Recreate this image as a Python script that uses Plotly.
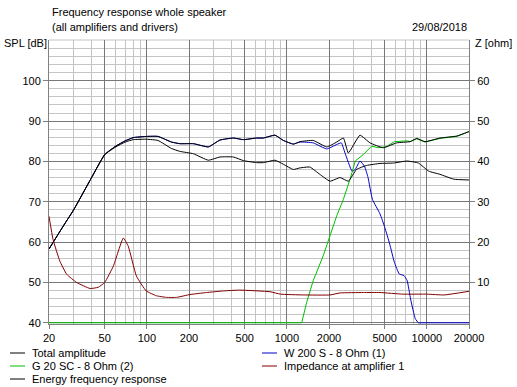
import plotly.graph_objects as go

# ---------------- data ----------------
freq_total = [20, 25, 30, 40, 50, 60, 70, 80, 100, 120, 150, 172, 215, 275, 333, 415, 489, 608, 679,
              823, 944, 1112, 1242, 1541, 1927, 2271, 2534, 2749, 3329, 3925, 4886, 6083, 7583, 8470,
              9700, 12420, 16400, 20000]
spl_total = [58.3, 63.7, 68.0, 75.8, 81.7, 83.8, 85.1, 85.9, 86.2, 86.2, 84.8, 84.4, 84.4, 83.6, 85.3,
             85.8, 85.4, 85.8, 85.8, 86.5, 85.2, 84.3, 84.9, 85.2, 83.6, 84.8, 85.8, 82.1, 86.5, 84.6,
             83.4, 84.6, 84.9, 85.7, 84.9, 85.8, 86.3, 87.4]

freq_efr = [20, 25, 30, 40, 50, 60, 70, 80, 100, 120, 150, 172, 215, 275, 333, 415, 489, 608, 679, 823,
            944, 1112, 1242, 1460, 1720, 2033, 2398, 2749, 3145, 3713, 4628, 5770, 7200, 8710, 10300,
            12420, 15570, 20000]
spl_efr = [58.3, 63.7, 68.0, 75.8, 81.7, 83.6, 84.8, 85.4, 85.5, 85.2, 83.2, 82.5, 81.9, 80.3, 81.1,
           81.1, 80.2, 79.7, 79.7, 80.3, 79.3, 78.0, 78.4, 78.6, 76.8, 75.1, 76.0, 75.1, 78.0, 79.0,
           79.5, 79.6, 80.1, 79.6, 77.6, 76.8, 75.6, 75.4]

freq_woofer = [20, 25, 30, 40, 50, 60, 70, 80, 100, 120, 150, 172, 215, 275, 333, 415, 489, 608, 679,
               823, 944, 1112, 1242, 1541, 1927, 2271, 2450, 2602, 2920, 3079, 3329, 3587, 3801, 4086,
               4628, 5010, 5430, 5860, 6350, 6870, 7240, 7650, 8270, 8710, 9200, 10000, 12000, 16000,
               20000]
spl_woofer = [58.3, 63.7, 68.0, 75.8, 81.7, 83.8, 85.1, 85.9, 86.2, 86.2, 84.8, 84.4, 84.4, 83.6, 85.3,
              85.8, 85.4, 85.8, 85.8, 86.5, 85.2, 84.3, 84.8, 84.6, 83.1, 84.2, 84.6, 82.1, 77.6, 78.0,
              80.1, 78.8, 76.0, 70.6, 67.0, 63.6, 59.5, 55.0, 52.1, 51.7, 50.4, 45.9, 41.0, 40.0, 40.0,
              40.0, 40.0, 40.0, 40.0]

freq_tweeter = [20, 1277, 1386, 1541, 1818, 2033, 2271, 2534, 2840, 3079, 3515, 4035, 4480, 5100, 5860,
                7200, 7583, 8470, 9700, 12420, 16400, 20000]
spl_tweeter = [40.0, 40.0, 45.1, 50.4, 56.6, 61.6, 66.5, 70.6, 75.8, 80.1, 81.7, 83.8, 83.4, 83.6, 84.9,
               85.1, 84.9, 85.6, 84.8, 85.7, 86.2, 87.4]

freq_imp = [20, 21.4, 23.9, 26.8, 31.5, 39.3, 44.9, 50, 57.7, 67.9, 73.6, 84.2, 99, 117, 138, 163, 203,
            267, 353, 461, 758, 900, 1320, 2033, 2400, 3515, 4628, 6760, 10000, 13300, 20000]
z_imp = [26.4, 20.6, 15.3, 12.0, 10.0, 8.5, 8.8, 10.0, 14.1, 21.0, 19.0, 11.6, 7.9, 6.7, 6.3, 6.3, 7.0,
         7.5, 7.9, 8.1, 7.7, 7.1, 6.9, 6.9, 7.4, 7.5, 7.5, 7.1, 7.1, 6.9, 7.8]

x_ticks = [20, 50, 100, 200, 500, 1000, 2000, 5000, 10000, 20000]
x_ticktext = ["20", "50", "100", "200", "500", "1000", "2000", "5000", "10000", "20000"]
x_minor = [30, 40, 60, 70, 80, 90, 300, 400, 600, 700, 800, 900, 3000, 4000, 6000, 7000, 8000, 9000]
spl_ticks = [40, 50, 60, 70, 80, 90, 100]
z_ticks = [10, 20, 30, 40, 50, 60]

names = ["Total amplitude", "G 20 SC - 8 Ohm (2)", "Energy frequency response",
         "W 200 S - 8 Ohm (1)", "Impedance at amplifier 1"]
colors = {"black": "#000000", "green": "#00c000", "blue": "#0000c8", "red": "#800000"}

# ---------------- layout geometry ----------------
W, H = 517, 387
L, R, T, B = 49, 48, 40, 63
PW, PH = W - L - R, H - T - B
FONT = "Liberation Sans, Arial, sans-serif"
FS = 11


def px(xp):
    return (xp - L) / PW


def py(yp):
    return (H - B - yp) / PH


def curve(col, sm=0.4):
    return dict(color=col, width=1, shape="spline", smoothing=sm)


fig = go.Figure()
fig.add_trace(go.Scatter(x=freq_woofer, y=spl_woofer, mode="lines", name=names[3],
                         line=curve(colors["blue"])))
fig.add_trace(go.Scatter(x=freq_tweeter, y=spl_tweeter, mode="lines", name=names[1],
                         line=dict(color=colors["green"], width=1)))
fig.add_trace(go.Scatter(x=freq_imp, y=z_imp, mode="lines", name=names[4], yaxis="y2",
                         line=curve(colors["red"])))
fig.add_trace(go.Scatter(x=freq_efr, y=spl_efr, mode="lines", name=names[2],
                         line=curve(colors["black"])))
fig.add_trace(go.Scatter(x=freq_total, y=spl_total, mode="lines", name=names[0],
                         line=curve(colors["black"])))

major_grid = "#787878"
minor_grid = "#c4c4c4"
axis_col = "#808080"

fig.update_layout(
    width=W, height=H,
    margin=dict(l=L, r=R, t=T, b=B),
    paper_bgcolor="white", plot_bgcolor="white",
    showlegend=False,
    hovermode=False,
    font=dict(family=FONT, size=FS, color="black"),
    xaxis=dict(type="log", range=[1.30103, 4.30103], tickmode="array", tickvals=x_ticks,
               ticktext=x_ticktext, showgrid=True, gridcolor=major_grid, gridwidth=1,
               ticks="outside", ticklen=4, tickcolor=axis_col, showline=True, linecolor=axis_col,
               linewidth=1, mirror=False, zeroline=False, layer="below traces",
               tickfont=dict(family=FONT, size=FS, color="black"),
               minor=dict(tickmode="array", tickvals=x_minor, showgrid=True, gridcolor=minor_grid,
                          ticks="")),
    yaxis=dict(range=[39.7, 110.1], tickmode="array", tickvals=spl_ticks, showgrid=True,
               gridcolor=major_grid, gridwidth=1, ticks="outside", ticklen=5, tickcolor=axis_col,
               showline=True, linecolor=axis_col, linewidth=1, zeroline=False, layer="below traces",
               tickfont=dict(family=FONT, size=FS, color="black"),
               minor=dict(dtick=2, tick0=40, showgrid=True, gridcolor=minor_grid, ticks="")),
    yaxis2=dict(range=[-0.3, 70.1], overlaying="y", side="right", tickmode="array", tickvals=z_ticks,
                showgrid=False, ticks="outside", ticklen=5, tickcolor=axis_col, showline=True,
                linecolor=axis_col, linewidth=1, zeroline=False, layer="below traces",
                tickfont=dict(family=FONT, size=FS, color="black")),
)

# top border line of the plot box
fig.add_shape(type="line", xref="paper", yref="paper", x0=0, x1=1, y0=1, y1=1,
              line=dict(color=minor_grid, width=1), layer="below")

# header texts
ann = []
ann.append(dict(text="Frequency response whole speaker", x=px(50), y=py(12), xanchor="left"))
ann.append(dict(text="(all amplifiers and drivers)", x=px(50), y=py(27), xanchor="left"))
ann.append(dict(text="29/08/2018", x=px(469), y=py(27), xanchor="right"))
ann.append(dict(text="SPL [dB]", x=px(2), y=py(43), xanchor="left"))
ann.append(dict(text="Z [ohm]", x=px(473), y=py(43), xanchor="left"))

# manual legend (two columns)
legend_items = [
    (names[0], colors["black"], 10, 353),
    (names[1], colors["green"], 10, 366),
    (names[2], colors["black"], 10, 379),
    (names[3], colors["blue"], 262, 353),
    (names[4], colors["red"], 262, 366),
]
for label, col, lx, ly in legend_items:
    fig.add_shape(type="line", xref="paper", yref="paper", x0=px(lx), x1=px(lx + 15),
                  y0=py(ly), y1=py(ly), line=dict(color=col, width=1))
    ann.append(dict(text=label, x=px(lx + 20), y=py(ly), xanchor="left"))

for a in ann:
    fig.add_annotation(xref="paper", yref="paper", showarrow=False, yanchor="middle",
                       font=dict(family=FONT, size=FS, color="black"), **a)

fig.write_html("out.html", config={"displayModeBar": False, "staticPlot": True},
               post_script="document.body.style.margin='0';document.body.style.overflow='hidden';")
